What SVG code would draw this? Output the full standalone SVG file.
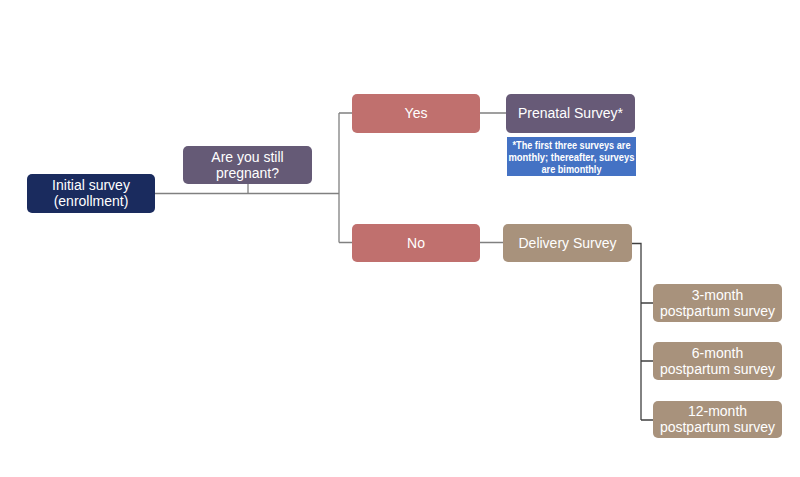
<svg xmlns="http://www.w3.org/2000/svg" width="800" height="477" viewBox="0 0 800 477">
<style>
text{font-family:"Liberation Sans","Open Sans",sans-serif;font-size:14px;fill:#fff;text-anchor:middle}
.note{font-family:"Liberation Sans","Open Sans",sans-serif;font-size:11px;font-weight:bold}
.c{fill:none;stroke:#808080;stroke-width:1.3}
.d{fill:none;stroke:#404040;stroke-width:1.3}
</style>
<rect width="800" height="477" fill="#fff"/>
<g id="connectors">
<path class="c" d="M155 193.5H339M248 184V193.5M339 113V242.5M339 113H352M339 242.5H352M480 113H506M480 242.5H503"/>
<path class="d" d="M632 243.5H641V420M641 303H653M641 361H653M641 420H653"/>
</g>
<g id="initial"><rect x="27" y="174" width="128" height="39" rx="5" fill="#1a2b5e"/><text x="91" y="190">Initial survey</text><text x="91" y="206">(enrollment)</text></g>
<g id="pregnant"><rect x="183" y="146" width="129" height="38" rx="5" fill="#655a76"/><text x="247.5" y="162">Are you still</text><text x="247.5" y="178">pregnant?</text></g>
<g id="yes"><rect x="352" y="94" width="128" height="39" rx="5" fill="#c0706e"/><text x="416" y="118">Yes</text></g>
<g id="prenatal"><rect x="506" y="94" width="129" height="39" rx="5" fill="#675a77"/><text x="570.5" y="118">Prenatal Survey*</text></g>
<g id="note"><rect x="507" y="137" width="129" height="39" fill="#4472c4"/><text class="note" x="571.5" y="148.5" textLength="118" lengthAdjust="spacingAndGlyphs">*The first three surveys are</text><text class="note" x="571.5" y="160.5" textLength="126" lengthAdjust="spacingAndGlyphs">monthly; thereafter, surveys</text><text class="note" x="571.5" y="172.5" textLength="60" lengthAdjust="spacingAndGlyphs">are bimonthly</text></g>
<g id="no"><rect x="352" y="224" width="128" height="38" rx="5" fill="#c0706e"/><text x="416" y="248">No</text></g>
<g id="delivery"><rect x="503" y="224" width="129" height="38" rx="5" fill="#a8927c"/><text x="567.5" y="248">Delivery Survey</text></g>
<g id="pp3"><rect x="653" y="284" width="129" height="38" rx="5" fill="#a8927c"/><text x="717.5" y="300">3-month</text><text x="717.5" y="316">postpartum survey</text></g>
<g id="pp6"><rect x="653" y="342" width="129" height="38" rx="5" fill="#a8927c"/><text x="717.5" y="358">6-month</text><text x="717.5" y="374">postpartum survey</text></g>
<g id="pp12"><rect x="653" y="401" width="129" height="37" rx="5" fill="#a8927c"/><text x="717.5" y="416">12-month</text><text x="717.5" y="432">postpartum survey</text></g>
</svg>
